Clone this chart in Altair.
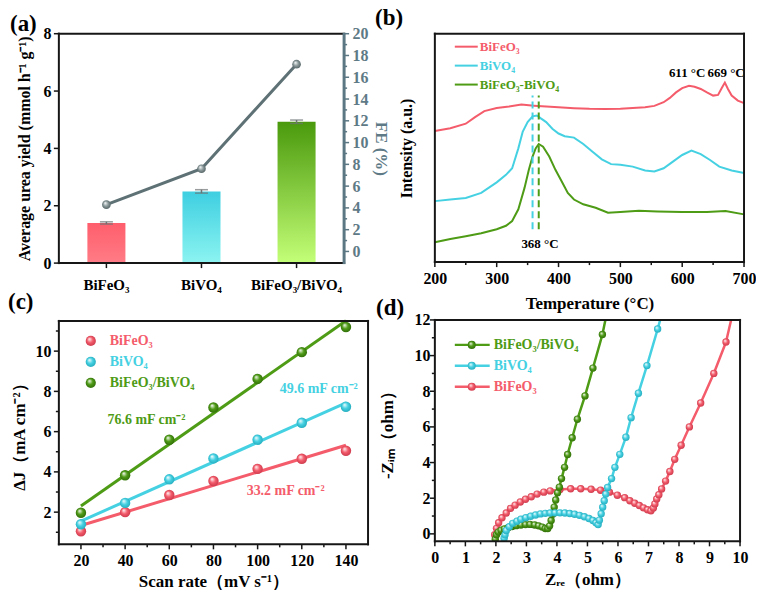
import altair as alt
import pandas as pd

FONT = "Liberation Serif"
RED = "#F45C6B"
CYAN = "#45D1E2"
GREEN = "#4E9B16"
GRAY = "#5E7175"
AXGRAY = "#5E7A86"
BLACK = "#000000"
INK = "#161616"
INKGRAY = "#5B7783"

# ---------------- (a) ----------------
cats = ["BiFeO₃", "BiVO₄", "BiFeO₃/BiVO₄"]
yield_vals = [1.40, 2.50, 4.93]
yield_err = [0.04, 0.06, 0.06]
fe_vals = [4.3, 7.6, 17.2]
a_yticks = [0, 2, 4, 6, 8]
a_fe_major = [0, 2, 4, 6, 8, 10, 12, 14, 16, 18, 20]
a_fe_minor = [1, 3, 5, 7, 9, 11, 13, 15, 17, 19]

# ---------------- (b) ----------------
names_b = ["BiFeO₃", "BiVO₄", "BiFeO₃-BiVO₄"]
t_red = [200, 225, 250, 265, 280, 300, 320, 340, 360, 380, 400, 425, 450, 475, 500, 520, 540, 555,
         570, 580, 590, 600, 611, 620, 630, 640, 650, 658, 664, 669, 674, 680, 690, 700]
i_red = [57.4, 58.6, 60.6, 63.5, 66.1, 67.5, 68.1, 69.0, 68.5, 68.1, 67.8, 67.4, 67.1, 67.0, 67.1, 67.5,
         67.8, 68.4, 70.0, 71.9, 74.3, 76.2, 77.2, 76.8, 75.8, 74.3, 72.9, 73.2, 76.2, 78.6, 75.8, 72.9,
         70.7, 69.6]
t_cyan = [200, 225, 250, 275, 300, 315, 325, 335, 342, 350, 358, 365, 372, 380, 390, 400, 410, 425,
          440, 455, 470, 485, 500, 520, 540, 555, 570, 585, 600, 615, 630, 645, 660, 680, 700]
i_cyan = [26.7, 27.4, 28.1, 30.3, 34.9, 38.2, 41.1, 49.8, 57.0, 61.3, 63.8, 64.2, 62.8, 61.3, 58.4,
          56.3, 55.1, 54.5, 51.7, 48.3, 45.0, 42.9, 42.6, 41.8, 40.1, 39.7, 41.1, 44.0, 46.9, 48.8,
          47.3, 44.7, 41.8, 40.1, 39.0]
t_green = [200, 225, 250, 275, 300, 315, 325, 335, 345, 352, 358, 363, 368, 375, 385, 395, 405, 415,
           425, 440, 460, 480, 500, 530, 560, 600, 640, 670, 700]
i_green = [8.7, 10.1, 11.3, 12.6, 14.4, 15.9, 18.0, 23.1, 32.5, 40.4, 46.2, 49.8, 51.7, 50.5, 46.2,
           40.4, 35.4, 30.3, 27.4, 25.3, 23.8, 21.6, 21.9, 22.5, 22.2, 21.9, 21.9, 22.4, 20.9]
peak_t = [358, 368]
peak_lo = [14.4, 14.4]
peak_hi = [72.9, 72.9]
ann_b_t = [608, 671, 370]
ann_b_i = [83, 83, 7.9]
ann_b_text = ["611 °C", "669 °C", "368 °C"]
b_major = [200, 300, 400, 500, 600, 700]
b_minor = [250, 350, 450, 550, 650]

# ---------------- (c) ----------------
names_c = ["BiFeO₃", "BiVO₄", "BiFeO₃/BiVO₄"]
rates = [20, 40, 60, 80, 100, 120, 140]
dj_red = [1.05, 2.00, 2.85, 3.55, 4.15, 4.65, 5.05]
dj_cyan = [1.40, 2.46, 3.63, 4.67, 5.60, 6.44, 7.24]
dj_green = [1.97, 3.83, 5.60, 7.20, 8.62, 9.95, 11.20]
ann_c_x = [49.7, 127.7, 112.7]
ann_c_y = [6.57, 8.12, 3.04]
ann_c_text = ["76.6 mF cm⁻²", "49.6 mF cm⁻²", "33.2 mF cm⁻²"]
c_xmajor = [20, 40, 60, 80, 100, 120, 140]
c_xminor = [30, 50, 70, 90, 110, 130]
c_ymajor = [2, 4, 6, 8, 10]
c_yminor = [1, 3, 5, 7, 9, 11]

# ---------------- (d) ----------------
names_d = ["BiFeO₃/BiVO₄", "BiVO₄", "BiFeO₃"]
zr_red = [1.96, 2.02, 2.09, 2.20, 2.34, 2.48, 2.63, 2.80, 2.97, 3.16, 3.35, 3.57, 3.78, 4.10, 4.45,
          4.78, 5.12, 5.43, 5.72, 5.98, 6.22, 6.39, 6.55, 6.70, 6.84, 6.97, 7.08, 7.16, 7.21, 7.27,
          7.34, 7.43, 7.56, 7.70, 7.86, 8.07, 8.34, 8.71, 9.14, 9.54, 9.87]
zi_red = [-0.05, 0.31, 0.62, 0.90, 1.17, 1.43, 1.61, 1.79, 1.94, 2.08, 2.23, 2.34, 2.41, 2.49, 2.53,
          2.53, 2.50, 2.45, 2.34, 2.17, 2.03, 1.86, 1.72, 1.59, 1.46, 1.35, 1.30, 1.45, 1.68, 1.96,
          2.20, 2.52, 2.96, 3.50, 4.18, 4.97, 6.00, 7.34, 9.00, 10.76, 13.2]
zr_cyan = [2.27, 2.30, 2.34, 2.44, 2.55, 2.69, 2.82, 2.98, 3.14, 3.30, 3.46, 3.62, 3.78, 3.94, 4.10,
           4.26, 4.42, 4.58, 4.74, 4.90, 5.05, 5.18, 5.28, 5.35, 5.39, 5.45, 5.50, 5.55, 5.60, 5.66,
           5.79, 5.90, 6.06, 6.26, 6.43, 6.67, 6.95, 7.30, 7.48]
zi_cyan = [-0.25, -0.05, 0.19, 0.40, 0.59, 0.71, 0.82, 0.91, 0.99, 1.06, 1.12, 1.15, 1.17, 1.18, 1.18,
           1.17, 1.14, 1.10, 1.04, 0.96, 0.86, 0.75, 0.62, 0.52, 0.77, 1.13, 1.50, 1.86, 2.23, 2.60,
           3.10, 3.73, 4.46, 5.42, 6.52, 7.89, 9.44, 11.49, 12.6]
zr_green = [1.98, 2.02, 2.08, 2.17, 2.28, 2.40, 2.53, 2.67, 2.82, 2.97, 3.12, 3.27, 3.40, 3.52, 3.62,
            3.70, 3.76, 3.81, 3.86, 3.91, 3.96, 4.02, 4.08, 4.15, 4.25, 4.35, 4.50, 4.67, 4.92, 5.18,
            5.49, 5.66]
zi_green = [-0.30, -0.05, 0.10, 0.20, 0.28, 0.35, 0.41, 0.46, 0.50, 0.52, 0.53, 0.50, 0.45, 0.38, 0.30,
            0.30, 0.45, 0.75, 1.10, 1.50, 1.90, 2.30, 2.62, 3.10, 3.73, 4.45, 5.39, 6.43, 7.74, 9.30,
            11.18, 12.6]
d_xmajor = [0, 1, 2, 3, 4, 5, 6, 7, 8, 9, 10]
d_xminor = [0.5, 1.5, 2.5, 3.5, 4.5, 5.5, 6.5, 7.5, 8.5, 9.5]
d_ymajor = [0, 2, 4, 6, 8, 10, 12]
d_yminor = [1, 3, 5, 7, 9, 11]

ONE = pd.DataFrame({"k": [0]})


def sphere(base, dark):
    return alt.RadialGradient(
        gradient="radial",
        stops=[alt.GradientStop(color="#FFFFFF", offset=0),
               alt.GradientStop(color=base, offset=0.5),
               alt.GradientStop(color=dark, offset=1)],
        x1=0.35, y1=0.3, r1=0, x2=0.5, y2=0.5, r2=0.55)


def vgrad(top, bottom):
    return alt.LinearGradient(
        gradient="linear",
        stops=[alt.GradientStop(color=top, offset=0), alt.GradientStop(color=bottom, offset=1)],
        x1=0, x2=0, y1=0, y2=1)


SPH = {RED: sphere(RED, "#C9374A"), CYAN: sphere(CYAN, "#22A9BA"), GREEN: sphere(GREEN, "#2F6A08")}


def panel_title(t, offset, dx):
    return alt.TitleParams(t, anchor="start", frame="bounds", offset=offset, dx=dx,
                           font=FONT, fontSize=23, fontWeight="bold", color=BLACK)


def strip(x1, x2, y1, y2, color=INK):
    return alt.Chart(ONE).mark_rect(color=color, opacity=1).encode(
        x=alt.value(x1), x2=alt.value(x2), y=alt.value(y1), y2=alt.value(y2))


def frame(W, H, right_color=INK, rw=2):
    return [strip(-1, W + 1, -1, 1), strip(-1, W + 1, H - 1, H + 1), strip(-1, 1, -1, H + 1),
            strip(W - rw / 2, W + rw / 2, -1, H + 1, right_color)]


def xticks(field, vals, enc, H, length, color=INK):
    return alt.Chart(pd.DataFrame({field: vals})).mark_rule(color=color, strokeWidth=1.5).encode(
        x=enc, y=alt.value(H), y2=alt.value(H + length))


def yticks(field, vals, enc, x0, length, color=INK):
    return alt.Chart(pd.DataFrame({field: vals})).mark_rule(color=color, strokeWidth=1.5).encode(
        y=enc, x=alt.value(x0), x2=alt.value(x0 + length))


# ================= panel (a) =================
WA, HA = 286, 230
dfa = pd.DataFrame({"cat": cats, "y": yield_vals, "fe": fe_vals,
                    "lo": [v - e for v, e in zip(yield_vals, yield_err)],
                    "hi": [v + e for v, e in zip(yield_vals, yield_err)]})
xa = alt.X("cat:N", sort=cats, scale=alt.Scale(paddingInner=0.6, paddingOuter=0.3),
           axis=alt.Axis(title=None, labelAngle=0, tickSize=4, labelPadding=14, labelFontSize=15))
ya_scale = alt.Scale(domain=[0, 8], nice=False)
ya = alt.Y("y:Q", scale=ya_scale,
           axis=alt.Axis(values=a_yticks, title="Average urea yield (mmol h⁻¹ g⁻¹)",
                         titlePadding=10, titleFontSize=16))
bar_cols = [("#FF5E6C", "#FF7C86"), ("#3ECFE1", "#8CF4F1"), ("#4A990C", "#C4FF78")]
left_layers = []
for c, (top, bot) in zip(cats, bar_cols):
    left_layers.append(
        alt.Chart(dfa).transform_filter(alt.datum.cat == c)
        .mark_bar(color=vgrad(top, bot)).encode(x=xa, y=ya))
left_layers.append(alt.Chart(dfa).mark_rule(color="#6E7474", strokeWidth=1.5)
                   .encode(x=xa, y=alt.Y("lo:Q", scale=ya_scale), y2="hi:Q"))
left_layers.append(alt.Chart(dfa).mark_tick(color="#6E7474", thickness=1.5, size=13)
                   .encode(x=xa, y=alt.Y("hi:Q", scale=ya_scale)))
left_layers.append(alt.Chart(dfa).mark_tick(color="#6E7474", thickness=1.5, size=13)
                   .encode(x=xa, y=alt.Y("lo:Q", scale=ya_scale)))
left_layers += [yticks("y", a_yticks, ya, 0, -5), xticks("cat", cats, xa, HA, 5)]
left_layers += frame(WA, HA, INKGRAY, 3)

yr = alt.Y("fe:Q", scale=alt.Scale(domain=[-1.07, 20], nice=False),
           axis=alt.Axis(orient="right", values=a_fe_major, tickSize=5,
                         title="FE (%)", titleColor=AXGRAY, labelColor=AXGRAY, titlePadding=3))
right_layers = [
    alt.Chart(dfa).mark_line(color=GRAY, strokeWidth=3).encode(x=xa, y=yr),
    alt.Chart(dfa).mark_circle(size=75, opacity=1, color=sphere("#8E9C9E", "#4F5E60")).encode(x=xa, y=yr),
    yticks("fe", a_fe_major, yr, WA, 5, INKGRAY),
    yticks("fe", a_fe_minor, yr, WA, 3, INKGRAY),
]
panel_a = alt.layer(alt.layer(*left_layers), alt.layer(*right_layers)).resolve_scale(
    y="independent").properties(width=WA, height=HA, title=panel_title("(a)", -10, -7))

# ================= panel (b) =================
WB, HB = 310, 229
xb = alt.X("t:Q", scale=alt.Scale(domain=[200, 700], nice=False),
           axis=alt.Axis(values=b_major, tickSize=5, title="Temperature (°C)", titlePadding=10))
yb = alt.Y("i:Q", scale=alt.Scale(domain=[0, 100], nice=False),
           axis=alt.Axis(labels=False, ticks=False, title="Intensity (a.u.)", titlePadding=20,
                         titleFontSize=16))
b_layers = []
for tt, ii, cc in [(t_red, i_red, RED), (t_cyan, i_cyan, CYAN), (t_green, i_green, GREEN)]:
    b_layers.append(alt.Chart(pd.DataFrame({"t": tt, "i": ii})).mark_line(strokeWidth=2, color=cc)
                    .encode(x=xb, y=yb))
for tp, lo, hi, cc in zip(peak_t, peak_lo, peak_hi, [CYAN, GREEN]):
    b_layers.append(alt.Chart(pd.DataFrame({"t": [tp], "i": [lo], "hi": [hi]}))
                    .mark_rule(strokeWidth=2, strokeDash=[7, 4], color=cc)
                    .encode(x=xb, y=yb, y2="hi:Q"))
dfan = pd.DataFrame({"t": ann_b_t, "i": ann_b_i, "label": ann_b_text})
b_layers.append(alt.Chart(dfan).mark_text(font=FONT, fontWeight="bold", fontSize=13, color=BLACK).encode(
    x=xb, y=yb, text="label:N"))
for k, (nm, cc) in enumerate(zip(names_b, [RED, CYAN, GREEN])):
    yy = 13 + 19 * k
    b_layers.append(strip(20, 43, yy - 1, yy + 1, cc))
    b_layers.append(alt.Chart(ONE).mark_text(text=nm, color=cc, font=FONT, fontWeight="bold", fontSize=13,
                                             align="left", baseline="middle").encode(
        x=alt.value(45), y=alt.value(yy)))
b_layers += [xticks("t", b_major, xb, HB, 5), xticks("t", b_minor, xb, HB, 3)] + frame(WB, HB)
panel_b = alt.layer(*b_layers).properties(width=WB, height=HB, title=panel_title("(b)", 3, -24))

# ================= panel (c) =================
WC, HC = 310, 224
xc = alt.X("rate:Q", scale=alt.Scale(domain=[10, 150], nice=False),
           axis=alt.Axis(values=c_xmajor, tickSize=5, title="Scan rate（mV s⁻¹）", titlePadding=5))
yc = alt.Y("dj:Q", scale=alt.Scale(domain=[0.4, 11.5], nice=False),
           axis=alt.Axis(values=c_ymajor, tickSize=5, title="ΔJ（mA cm⁻²）", titlePadding=6))
c_series = [(dj_red, RED), (dj_cyan, CYAN), (dj_green, GREEN)]
c_layers = []
for dj, cc in c_series:
    c_layers.append(alt.Chart(pd.DataFrame({"rate": rates, "dj": dj}))
                    .transform_regression("rate", "dj")
                    .mark_line(color=cc, strokeWidth=3).encode(x=xc, y=yc))
for dj, cc in c_series:
    c_layers.append(alt.Chart(pd.DataFrame({"rate": rates, "dj": dj}))
                    .mark_circle(size=110, opacity=1, color=SPH[cc]).encode(x=xc, y=yc))
for ax, ay, at, cc in zip(ann_c_x, ann_c_y, ann_c_text, [GREEN, CYAN, RED]):
    c_layers.append(alt.Chart(pd.DataFrame({"rate": [ax], "dj": [ay], "label": [at]}))
                    .mark_text(font=FONT, fontWeight="bold", fontSize=14, color=cc)
                    .encode(x=xc, y=yc, text="label:N"))
for k, (nm, (dj, cc)) in enumerate(zip(names_c, c_series)):
    yy = 20 + 21 * k
    c_layers.append(alt.Chart(ONE).mark_circle(size=105, opacity=1, color=SPH[cc]).encode(
        x=alt.value(32), y=alt.value(yy)))
    c_layers.append(alt.Chart(ONE).mark_text(text=nm, color=cc, font=FONT, fontWeight="bold", fontSize=14,
                                             align="left", baseline="middle").encode(
        x=alt.value(51), y=alt.value(yy)))
c_layers += [xticks("rate", c_xmajor, xc, HC, 5), xticks("rate", c_xminor, xc, HC, 3),
             yticks("dj", c_ymajor, yc, 0, -5), yticks("dj", c_yminor, yc, 0, -3)] + frame(WC, HC)
panel_c = alt.layer(*c_layers).properties(width=WC, height=HC, title=panel_title("(c)", 1, -3))

# ================= panel (d) =================
WD, HD = 306, 222
xd = alt.X("zr:Q", scale=alt.Scale(domain=[0, 10], nice=False),
           axis=alt.Axis(values=d_xmajor, tickSize=5, title="Zᵣₑ（ohm）", titlePadding=6))
yd = alt.Y("zi:Q", scale=alt.Scale(domain=[-0.42, 12], nice=False),
           axis=alt.Axis(values=d_ymajor, tickSize=5, labelPadding=5, title="-Zᵢₘ（ohm）",
                         titlePadding=17))
d_series = [(zr_red, zi_red, RED), (zr_green, zi_green, GREEN), (zr_cyan, zi_cyan, CYAN)]
d_layers = []
for zr, zi, cc in d_series:
    dd = pd.DataFrame({"zr": zr, "zi": zi, "o": list(range(len(zr)))})
    d_layers.append(alt.Chart(dd).mark_line(color=cc, strokeWidth=2.5, clip=True).encode(
        x=xd, y=yd, order="o:Q"))
    d_layers.append(alt.Chart(dd).mark_circle(size=55, opacity=1, color=SPH[cc], clip=True)
                    .encode(x=xd, y=yd))
for k, (nm, cc) in enumerate(zip(names_d, [GREEN, CYAN, RED])):
    yy = 25 + 21 * k
    d_layers.append(strip(20, 55, yy - 1.25, yy + 1.25, cc))
    d_layers.append(alt.Chart(ONE).mark_circle(size=65, opacity=1, color=SPH[cc]).encode(
        x=alt.value(37), y=alt.value(yy)))
    d_layers.append(alt.Chart(ONE).mark_text(text=nm, color=cc, font=FONT, fontWeight="bold", fontSize=14,
                                             align="left", baseline="middle").encode(
        x=alt.value(59), y=alt.value(yy)))
d_layers += [xticks("zr", d_xmajor, xd, HD, 5), xticks("zr", d_xminor, xd, HD, 3),
             yticks("zi", d_ymajor, yd, 0, -5), yticks("zi", d_yminor, yd, 0, -3)] + frame(WD, HD)
panel_d = alt.layer(*d_layers).properties(width=WD, height=HD, title=panel_title("(d)", -8, -3))

col1 = alt.vconcat(panel_a, panel_c, spacing=58, bounds="flush")
col2 = alt.vconcat(panel_b, panel_d, spacing=58, bounds="flush")

chart = alt.hconcat(col1, col2, spacing=-14).properties(
    padding={"left": 0, "top": -2, "right": 0, "bottom": 0}
).configure_axis(
    labelFont=FONT, labelFontSize=16, labelFontWeight="bold", labelColor=BLACK,
    titleFont=FONT, titleFontSize=17, titleFontWeight="bold", titleColor=BLACK,
    domain=False, ticks=False, labelPadding=8, grid=False, labelFlush=False, labelOverlap=False
).configure_view(strokeWidth=0)

chart.save("out.html", embed_options={"renderer": "svg", "actions": False})
